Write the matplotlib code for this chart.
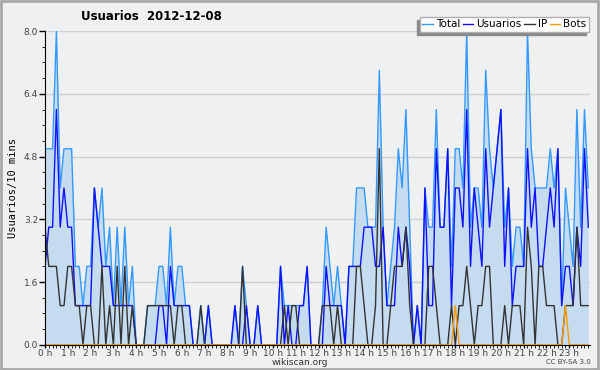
import numpy as np
import matplotlib
matplotlib.use("Agg")
from matplotlib import pyplot as plt
from matplotlib.patches import Rectangle
from matplotlib.ticker import MultipleLocator, FixedLocator

# values per 10 minutes (144 slots)
usuarios = [2, 3, 3, 6, 3, 4, 3, 3, 1, 1,
            1, 1, 1, 4, 3, 2, 2, 2, 1, 1,
            1, 1, 1, 1, 0, 0, 0, 0, 0, 0,
            1, 1, 0, 2, 1, 1, 1, 1, 1, 0,
            0, 0, 0, 1, 0, 0, 0, 0, 0, 0,
            1, 0, 0, 1, 0, 0, 1, 0, 0, 0,
            0, 0, 2, 0, 1, 0, 0, 1, 1, 2,
            0, 0, 0, 0, 2, 1, 1, 1, 1, 0,
            2, 2, 2, 2, 3, 3, 3, 2, 2, 3,
            1, 1, 1, 3, 2, 3, 2, 0, 1, 0,
            4, 1, 1, 5, 3, 3, 5, 1, 4, 4,
            3, 6, 2, 4, 3, 2, 5, 3, 4, 5,
            6, 2, 4, 1, 2, 2, 2, 5, 3, 4,
            2, 2, 3, 4, 3, 5, 1, 2, 2, 1,
            3, 2, 5, 3]
ip = [3, 2, 2, 2, 1, 1, 2, 2, 1, 1,
      0, 1, 1, 0, 0, 2, 0, 1, 0, 2,
      0, 2, 0, 1, 0, 0, 0, 1, 1, 1,
      1, 1, 1, 1, 0, 1, 1, 0, 0, 0,
      0, 1, 0, 0, 0, 0, 0, 0, 0, 0,
      0, 0, 2, 0, 0, 0, 0, 0, 0, 0,
      0, 0, 0, 1, 0, 1, 1, 0, 0, 0,
      0, 0, 0, 1, 1, 1, 0, 1, 0, 0,
      0, 0, 2, 2, 1, 0, 0, 1, 5, 0,
      0, 1, 2, 2, 2, 3, 1, 0, 0, 0,
      0, 2, 2, 1, 0, 0, 0, 1, 0, 1,
      1, 2, 1, 0, 1, 1, 2, 2, 0, 0,
      0, 1, 0, 1, 1, 1, 0, 3, 2, 0,
      2, 2, 1, 1, 1, 0, 0, 1, 1, 1,
      3, 1, 1, 1]
bots = [0] * 108 + [1] + [0] * 28 + [1] + [0] * 6
total = [5, 5, 5, 8, 4, 5, 5, 5, 2, 2,
         1, 2, 2, 4, 3, 4, 2, 3, 1, 3,
         1, 3, 1, 2, 0, 0, 0, 1, 1, 1,
         2, 2, 1, 3, 1, 2, 2, 1, 1, 0,
         0, 1, 0, 1, 0, 0, 0, 0, 0, 0,
         1, 0, 2, 1, 0, 0, 1, 0, 0, 0,
         0, 0, 2, 1, 1, 1, 1, 1, 1, 2,
         0, 0, 0, 1, 3, 2, 1, 2, 1, 0,
         2, 2, 4, 4, 4, 3, 3, 3, 7, 3,
         1, 2, 3, 5, 4, 6, 3, 0, 1, 0,
         4, 3, 3, 6, 3, 3, 5, 2, 5, 5,
         4, 8, 3, 4, 4, 3, 7, 5, 4, 5,
         6, 3, 4, 2, 3, 3, 2, 8, 5, 4,
         4, 4, 4, 5, 4, 5, 1, 4, 3, 2,
         6, 3, 6, 4]
hour_labels = ["%d h" % h for h in range(24)]
y_ticks = [0, 1.6, 3.2, 4.8, 6.4, 8.0]

hours = np.arange(len(total)) / 6.0
bg = "#eff0f2"

fig = plt.figure(figsize=(6, 3.7), dpi=100, facecolor=bg)
fig.patches.append(Rectangle((0.002, 0.003), 0.995, 0.993, transform=fig.transFigure,
                             fill=False, edgecolor="#a8a8a8", linewidth=2))
ax = fig.add_axes([0.075, 0.068, 0.908, 0.848])
ax.set_facecolor(bg)

ax.fill_between(hours, total, 0, color="#c5dcf0", linewidth=0)
ax.plot(hours, total, color="#3399ff", linewidth=1.0, label="Total")
ax.plot(hours, usuarios, color="#1010ff", linewidth=1.0, label="Usuarios")
ax.plot(hours, ip, color="#333333", linewidth=1.0, label="IP")
ax.plot(hours, bots, color="#ff9900", linewidth=1.0, label="Bots")

ax.set_xlim(0, 23.9)
ax.set_ylim(0, 8)
ax.yaxis.set_major_locator(FixedLocator(y_ticks))
ax.yaxis.set_minor_locator(MultipleLocator(0.4))
ax.set_yticklabels(["%.1f" % v for v in y_ticks])
ax.set_xticks(range(24))
ax.set_xticklabels(hour_labels)
ax.xaxis.set_minor_locator(MultipleLocator(1 / 6.0))
ax.tick_params(axis="both", labelsize=6.5, labelcolor="#444444", color="black", width=1)
ax.tick_params(axis="x", which="both", length=2.5, pad=0.5)
ax.tick_params(axis="y", which="major", length=4, pad=1)
ax.tick_params(axis="y", which="minor", length=2.5)
ax.grid(axis="y", color="#cfcfcf", linewidth=1)
ax.set_axisbelow(True)
for side in ["top", "right"]:
    ax.spines[side].set_visible(False)

ax.set_ylabel("Usuarios/10 mins", family="DejaVu Sans Mono", fontsize=7.5, labelpad=4)
fig.text(0.252, 0.956, "Usuarios  2012-12-08", ha="center", va="center",
         fontsize=8.5, fontweight="bold")
fig.text(0.5, 0.019, "wikiscan.org", ha="center", va="center", fontsize=6.5, color="#333333")
fig.text(0.984, 0.021, "CC BY-SA 3.0", ha="right", va="center", fontsize=5, color="#444444")

leg = ax.legend(loc="upper right", bbox_to_anchor=(1.008, 1.062), ncol=4, fontsize=7.5,
                handlelength=1.0, handletextpad=0.3, columnspacing=0.25,
                borderpad=0.25, fancybox=False,
                shadow={"color": "#8a8a8a", "alpha": 1, "ox": -2, "oy": -2},
                framealpha=1, edgecolor="#b0b0b0")
leg.get_frame().set_linewidth(1)

fig.savefig("out.png", dpi=100, facecolor=bg)
